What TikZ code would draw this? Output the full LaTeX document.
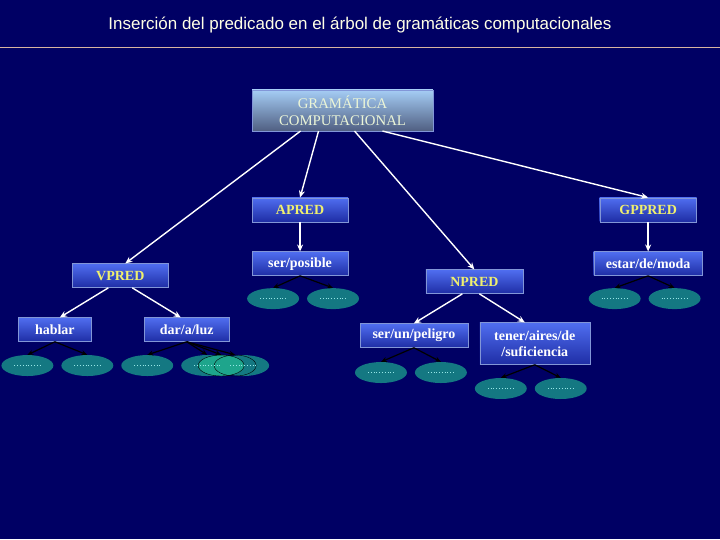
\documentclass[tikz,border=0pt]{standalone}
\usepackage{fontspec}
\setmainfont{Liberation Serif}
\newfontfamily\titlefont{Liberation Sans}
\usetikzlibrary{shapes.geometric,arrows.meta,calc}
\definecolor{navy}{RGB}{0,0,100}
\definecolor{titletext}{RGB}{255,255,230}
\definecolor{ruleline}{RGB}{215,180,160}
\definecolor{gctop}{RGB}{165,205,245}
\definecolor{gcbot}{RGB}{80,95,130}
\definecolor{gctext}{RGB}{235,245,215}
\definecolor{boxtop}{RGB}{80,110,240}
\definecolor{boxbot}{RGB}{30,45,165}
\definecolor{boxline}{RGB}{130,150,215}
\definecolor{leafteal}{RGB}{20,120,130}
\definecolor{leaflight}{RGB}{30,165,140}
\definecolor{leafdots}{RGB}{150,230,230}
\definecolor{predyellow}{RGB}{240,240,110}

\begin{document}
\begin{tikzpicture}[x=1pt,y=-1pt,
  every node/.style={inner sep=0pt,align=center},
  box/.style={draw=boxline,top color=boxtop,bottom color=boxbot,font=\fontsize{14}{16}\selectfont\bfseries,text=white},
  predbox/.style={box,text=predyellow},
  leaf/.style={ellipse,fill=leafteal,minimum width=52pt,minimum height=21pt},
  wline/.style={white,line width=1.4pt,-{Stealth[length=7pt,width=6pt]}},
  bline/.style={black,line width=1.2pt,-{Stealth[length=6pt,width=5pt]}}]
  \fill[navy] (0,0) rectangle (720,540);
  \node[font=\titlefont\fontsize{17}{19}\selectfont,text=titletext] (title) at (360,25) {Inserción del predicado en el árbol de gramáticas computacionales};
  \draw[ruleline,line width=0.9pt] (0,48) -- (720,48);

  \node[draw=boxline,top color=gctop,bottom color=gcbot,
        minimum width=181pt,minimum height=41pt,font=\fontsize{14.8}{17}\selectfont,text=gctext] (gc) at (342.5,110.5) {GRAMÁTICA\\COMPUTACIONAL};
  \node[predbox,minimum width=96pt,minimum height=24pt] (apred) at (300,210) {APRED};
  \node[predbox,minimum width=97pt,minimum height=24pt] (gppred) at (648.5,210) {GPPRED};
  \node[predbox,minimum width=97pt,minimum height=24pt] (npred) at (474.5,282) {NPRED};
  \node[predbox,minimum width=96pt,minimum height=24pt] (vpred) at (120,276) {VPRED};
  \node[box,minimum width=96pt,minimum height=24pt] (serpos) at (300,264) {ser/posible};
  \node[box,minimum width=109pt,minimum height=24pt] (estar) at (648.5,264) {estar/de/moda};
  \node[box,minimum width=73pt,minimum height=24pt] (hablar) at (54.5,330) {hablar};
  \node[box,minimum width=85pt,minimum height=24pt] (dar) at (186.5,330) {dar/a/luz};
  \node[box,minimum width=108pt,minimum height=24pt] (serun) at (414,336) {ser/un/peligro};
  \node[box,minimum width=110pt,minimum height=42pt] (tener) at (535,344) {tener/aires/de\\/suficiencia};

  \node[leaf] (sp1) at (273,299) {};
  \node[leaf] (sp2) at (333,299) {};
  \node[leaf] (em1) at (615,299) {};
  \node[leaf] (em2) at (675,299) {};
  \node[leaf] (hb1) at (27,366) {};
  \node[leaf] (hb2) at (87,366) {};
  \node[leaf] (dl1) at (147,366) {};
  \node[leaf] (dl4) at (243,366) {};
  \node[leaf] (dl2) at (207,366) {};
  \node[leaf,fill=leaflight,draw=black,minimum width=46pt] (dl3) at (221,366) {};
  \node[leaf,fill=none,draw=black,minimum width=42pt] (dl5) at (235,366) {};
  \node[leaf] (su1) at (381,373) {};
  \node[leaf] (su2) at (441,373) {};
  \node[leaf] (ta1) at (501,389) {};
  \node[leaf] (ta2) at (561,389) {};
  \foreach \e in {sp1,sp2,em1,em2,hb1,hb2,dl1,dl2,dl4,su1,su2,ta1,ta2}
    \draw[leafdots,line width=0.8pt,dotted] ($(\e.center)+(-13,0)$) -- ($(\e.center)+(13,0)$);

  \draw[wline] ($(gc.south)+(-42,0)$) -- ($(vpred.north)+(5,0)$);
  \draw[wline] ($(gc.south)+(-24,0)$) -- (apred.north);
  \draw[wline] ($(gc.south)+(12,0)$) -- (npred.north);
  \draw[wline] ($(gc.south)+(40,0)$) -- (gppred.north);
  \draw[wline] (apred) -- (serpos);
  \draw[wline] (gppred) -- (estar);
  \draw[wline] ($(vpred.south)+(-12,0)$) -- ($(hablar.north)+(5,0)$);
  \draw[wline] ($(vpred.south)+(12,0)$) -- ($(dar.north)+(-6,0)$);
  \draw[wline] ($(npred.south)+(-12,0)$) -- (serun.north);
  \draw[wline] ($(npred.south)+(5,0)$) -- ($(tener.north)+(-10,0)$);

  \draw[bline] (serpos.south) -- (sp1.north);
  \draw[bline] (serpos.south) -- (sp2.north);
  \draw[bline] (estar.south) -- (em1.north);
  \draw[bline] (estar.south) -- (em2.north);
  \draw[bline] (hablar.south) -- (hb1.north);
  \draw[bline] (hablar.south) -- (hb2.north);
  \draw[bline] (dar.south) -- (dl1.north);
  \draw[bline] (dar.south) -- (dl2.north);
  \draw[bline] (dar.south) -- (dl3.north);
  \draw[bline] (dar.south) -- (dl5.north);
  \draw[bline] (serun.south) -- (su1.north);
  \draw[bline] (serun.south) -- (su2.north);
  \draw[bline] (tener.south) -- (ta1.north);
  \draw[bline] (tener.south) -- (ta2.north);
\end{tikzpicture}
\end{document}
